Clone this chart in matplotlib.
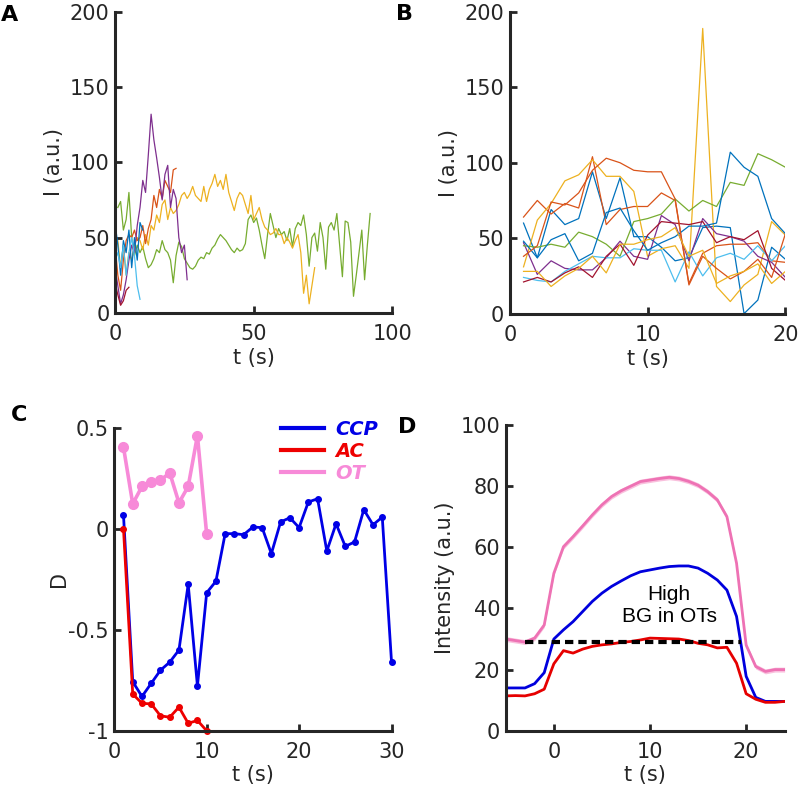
import matplotlib
matplotlib.use('Agg')
import matplotlib.pyplot as plt
import numpy as np

# MATLAB default line colours
c_blue = '#0072BD'
c_orange = '#D95319'
c_yellow = '#EDB120'
c_purple = '#7E2F8E'
c_green = '#77AC30'
c_lblue = '#4DBEEE'
c_dred = '#A2142F'

# ---- panel A: single tracks, I (a.u.) vs t (s)
a_green_t = np.arange(1, 93)
a_green = [70, 74, 55, 62, 80, 50, 38, 45, 40, 44, 36, 30, 32, 36, 42, 40, 48, 42, 40, 35,
           20, 38, 47, 44, 36, 33, 30, 29, 31, 35, 37, 36, 40, 39, 43, 45, 49, 52, 50, 48,
           45, 42, 40, 43, 41, 42, 46, 62, 65, 60, 63, 55, 45, 36, 52, 66, 58, 50, 56, 52,
           54, 48, 56, 44, 56, 60, 58, 65, 52, 31, 50, 53, 41, 60, 50, 29, 57, 60, 55, 66,
           45, 24, 61, 60, 47, 11, 25, 40, 55, 22, 45, 66]
a_yellow_t = np.arange(1, 73)
a_yellow = [48, 30, 45, 25, 40, 35, 45, 50, 48, 42, 52, 45, 58, 55, 65, 60, 72, 75, 62, 70,
            66, 68, 72, 78, 80, 76, 79, 84, 78, 76, 74, 84, 74, 82, 86, 92, 84, 88, 82, 92,
            80, 74, 68, 76, 80, 78, 72, 66, 78, 62, 66, 70, 62, 57, 55, 52, 53, 56, 52, 52,
            46, 50, 47, 43, 48, 52, 40, 13, 25, 6, 18, 30]
a_purple_t = np.arange(0, 27)
a_purple = [30, 18, 6, 12, 22, 35, 45, 40, 58, 70, 88, 80, 105, 132, 115, 103, 90, 75, 92, 98,
            70, 82, 76, 50, 40, 45, 22]
a_orange_t = np.arange(0, 23)
a_orange = [45, 25, 15, 35, 48, 52, 50, 55, 48, 50, 58, 46, 56, 62, 78, 70, 82, 76, 88, 84,
            80, 95, 96]
a_blue_t = np.arange(0, 11)
a_blue = [60, 45, 25, 48, 40, 55, 30, 50, 35, 60, 55]
a_lblue_t = np.arange(0, 10)
a_lblue = [35, 40, 30, 45, 25, 40, 50, 38, 18, 9]
a_dred_t = np.arange(0, 6)
a_dred = [20, 12, 5, 8, 15, 17]

# ---- panel B: tracks sampled each second
b_t = np.arange(1, 21)
b_blue1 = [60, 37, 69, 59, 63, 94, 63, 90, 51, 51, 44, 35, 37, 57, 58, 57, 0, 9, 44, 36]
b_orange1 = [64, 75, 66, 73, 70, 104, 59, 69, 71, 71, 80, 75, 20, 40, 45, 46, 46, 47, 35, 34]
b_yellow1 = [31, 62, 73, 88, 92, 102, 91, 91, 81, 38, 43, 45, 30, 189, 18, 8, 19, 26, 61, 52]
b_purple = [47, 26, 35, 30, 29, 29, 37, 48, 38, 36, 65, 59, 35, 63, 53, 51, 48, 38, 34, 24]
b_green = [45, 44, 46, 44, 54, 51, 46, 38, 61, 63, 66, 76, 68, 75, 71, 87, 85, 106, 102, 97]
b_lblue = [24, 22, 21, 28, 33, 38, 37, 37, 43, 42, 42, 21, 41, 25, 37, 40, 36, 45, 35, 45]
b_dred = [21, 24, 21, 27, 31, 24, 38, 46, 32, 52, 61, 60, 59, 61, 47, 51, 49, 55, 30, 22]
b_blue2 = [48, 37, 49, 53, 35, 40, 67, 70, 55, 42, 47, 51, 58, 58, 60, 107, 97, 91, 63, 53]
b_orange2 = [38, 45, 74, 72, 80, 95, 103, 100, 95, 94, 94, 76, 19, 38, 30, 23, 28, 36, 24, 53]
b_yellow2 = [28, 28, 18, 25, 30, 38, 27, 46, 46, 49, 51, 57, 38, 42, 20, 25, 28, 33, 20, 28]

# ---- panel C: D vs t
c_ccp_t = np.arange(1, 31)
c_ccp = [0.068, -0.757, -0.83, -0.765, -0.70, -0.66, -0.60, -0.274, -0.778, -0.316,
         -0.259, -0.023, -0.023, -0.028, 0.01, 0.007, -0.122, 0.035, 0.056, 0.007,
         0.134, 0.15, -0.109, 0.026, -0.086, -0.064, 0.096, 0.021, 0.059, -0.658]
c_ac_t = np.arange(1, 11)
c_ac = [0.0, -0.818, -0.864, -0.867, -0.926, -0.933, -0.883, -0.963, -0.949, -1.0]
c_ot_t = np.arange(1, 11)
c_ot = [0.405, 0.125, 0.211, 0.232, 0.241, 0.279, 0.130, 0.211, 0.463, -0.026]

# ---- panel D: averaged intensity
d_t = np.arange(-5, 25)
d_ot = [30, 29.5, 29, 30.3, 34.6, 51.5, 60.2, 63.5, 67, 70.6, 73.9, 76.6, 78.5, 80, 81.5,
        82, 82.5, 82.9, 82.5, 81.6, 80.3, 78.2, 75.5, 70, 54.8, 28, 21, 19.4, 20, 20]
d_ccp = [14, 14, 14, 15.4, 19, 30, 33, 35.7, 39, 42.3, 45, 47.2, 49, 50.7, 52, 52.6,
         53.2, 53.7, 53.9, 53.9, 53.2, 51.5, 49.3, 46, 37.4, 17.8, 10.9, 9.6, 9.6, 9.6]
d_ac = [11.4, 11.5, 11.4, 12.1, 13.6, 21.9, 26.2, 25.4, 26.7, 27.6, 28.1, 28.4, 28.9, 29.2,
        29.7, 30.3, 30.2, 30.1, 30, 29.5, 28.6, 28.1, 27.1, 27.3, 22.1, 12.1, 10.3, 9.3, 9.3, 9.6]
d_ot_err = 0.8
bg_t = [-3, 19.5]
bg_level = [29, 29]

axcol = '#262626'


def style(ax):
    for s in ['top', 'right']:
        ax.spines[s].set_visible(False)
    for s in ['left', 'bottom']:
        ax.spines[s].set_linewidth(2.2)
        ax.spines[s].set_color(axcol)
    ax.tick_params(direction='in', length=5, width=2, labelsize=15, colors=axcol, pad=4)
    ax.tick_params(axis='x', pad=8)


fig = plt.figure(figsize=(7.99, 7.90), dpi=100)

# A
axA = fig.add_axes([0.144, 0.604, 0.347, 0.381])
lw = 0.9
axA.plot(a_green_t, a_green, color=c_green, lw=lw)
axA.plot(a_yellow_t, a_yellow, color=c_yellow, lw=lw)
axA.plot(a_orange_t, a_orange, color=c_orange, lw=lw)
axA.plot(a_purple_t, a_purple, color=c_purple, lw=lw)
axA.plot(a_blue_t, a_blue, color=c_blue, lw=lw)
axA.plot(a_lblue_t, a_lblue, color=c_lblue, lw=lw)
axA.plot(a_dred_t, a_dred, color=c_dred, lw=lw)
axA.set_xlim(0, 100)
axA.set_ylim(0, 200)
axA.set_xticks([0, 50, 100])
axA.set_yticks([0, 50, 100, 150, 200])
axA.set_xlabel('t (s)', fontsize=15, color=axcol, labelpad=3)
axA.set_ylabel('I (a.u.)', fontsize=15, color=axcol)
style(axA)

# B
axB = fig.add_axes([0.638, 0.603, 0.345, 0.382])
for vals, col in [(b_blue1, c_blue), (b_orange1, c_orange), (b_yellow1, c_yellow),
                  (b_purple, c_purple), (b_green, c_green), (b_lblue, c_lblue),
                  (b_dred, c_dred), (b_blue2, c_blue), (b_orange2, c_orange),
                  (b_yellow2, c_yellow)]:
    axB.plot(b_t, vals, color=col, lw=lw)
axB.set_xlim(0, 20)
axB.set_ylim(0, 200)
axB.set_xticks([0, 10, 20])
axB.set_yticks([0, 50, 100, 150, 200])
axB.set_xlabel('t (s)', fontsize=15, color=axcol, labelpad=3)
axB.set_ylabel('I (a.u.)', fontsize=15, color=axcol)
style(axB)

# C
axC = fig.add_axes([0.143, 0.075, 0.347, 0.383])
col_ccp = '#0000e6'
col_ac = '#ee0000'
col_ot = '#f78ad8'
axC.plot(c_ccp_t, c_ccp, color=col_ccp, lw=2, marker='o', ms=4, label='CCP', clip_on=False)
axC.plot(c_ac_t, c_ac, color=col_ac, lw=2, marker='o', ms=4, label='AC', clip_on=False)
axC.plot(c_ot_t, c_ot, color=col_ot, lw=2.6, marker='o', ms=7, label='OT', clip_on=False)
axC.set_xlim(0, 30)
axC.set_ylim(-1, 0.5)
axC.set_xticks([0, 10, 20, 30])
axC.set_yticks([-1, -0.5, 0, 0.5])
axC.set_yticklabels(['-1', '-0.5', '0', '0.5'])
axC.set_xlabel('t (s)', fontsize=15, color=axcol, labelpad=2)
axC.set_ylabel('D', fontsize=15, color=axcol, labelpad=-1)
style(axC)
leg = axC.legend(loc='upper right', bbox_to_anchor=(1.015, 1.085), frameon=False,
                 handlelength=2.2, handletextpad=0.6, labelspacing=0.15,
                 prop={'weight': 'bold', 'style': 'italic', 'size': 14})
for line, txt in zip(leg.get_lines(), leg.get_texts()):
    line.set_marker('')
    line.set_linewidth(3)
    txt.set_color(line.get_color())

# D
axD = fig.add_axes([0.633, 0.075, 0.349, 0.387])
d_ot_arr = np.array(d_ot)
axD.fill_between(d_t, d_ot_arr - d_ot_err, d_ot_arr + d_ot_err, color='#f9c0dd', lw=0)
axD.plot(d_t, d_ot, color='#ee72b4', lw=2)
axD.plot(d_t, d_ccp, color='#0000dd', lw=2)
axD.plot(d_t, d_ac, color='#e60000', lw=2)
axD.plot(bg_t, bg_level, color='black', lw=3, dashes=(2, 1.2))
axD.text(12, 41, 'High\nBG in OTs', ha='center', va='center', fontsize=15,
         family='Liberation Sans', linespacing=1.15)
axD.set_xlim(-5, 24)
axD.set_ylim(0, 100)
axD.set_xticks([0, 10, 20])
axD.set_yticks([0, 20, 40, 60, 80, 100])
axD.set_xlabel('t (s)', fontsize=15, color=axcol, labelpad=2)
axD.set_ylabel('Intensity (a.u.)', fontsize=15, color=axcol)
style(axD)

# panel letters
for lab, x, y in [('A', 0.0125, 0.981), ('B', 0.506, 0.982), ('C', 0.024, 0.475), ('D', 0.509, 0.459)]:
    fig.text(x, y, lab, fontsize=16, fontweight='bold', color='black', ha='center', va='center')

fig.savefig('out.png', dpi=100)
